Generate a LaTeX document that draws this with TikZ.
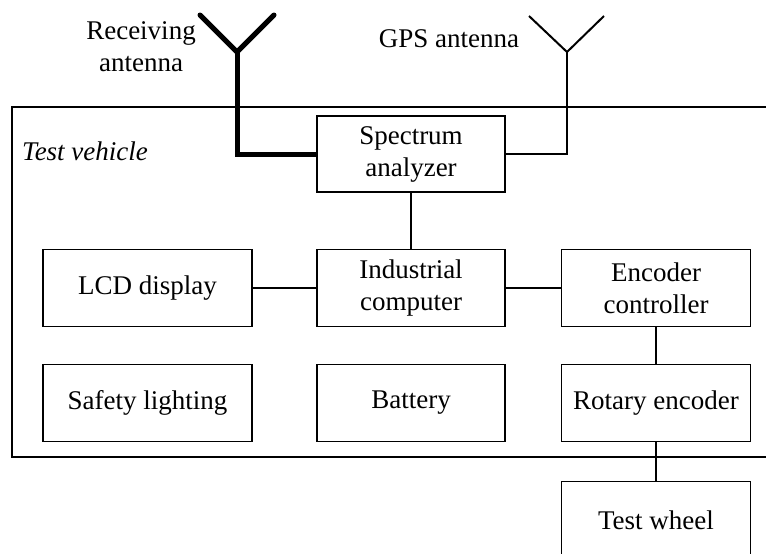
\documentclass[tikz,border=0pt]{standalone}
\usepackage{fontspec}
\setmainfont{Liberation Serif}
\begin{document}
\begin{tikzpicture}[x=1pt,y=-1pt,
  blk/.style={draw,line width=1.8pt,align=center,inner sep=0pt,font=\fontsize{27}{32}\selectfont},
  lbl/.style={align=center,inner sep=0pt,font=\fontsize{27}{32}\selectfont},
  conn/.style={line width=2pt},
  boldline/.style={line width=5pt}]
\clip (0,0) rectangle (766,554);
\fill[white] (0,0) rectangle (766,554);
% outer test vehicle frame (open to the right)
\draw[line width=1.8pt] (780,107) -- (12,107) -- (12,457) -- (780,457);
\node[lbl,anchor=west,font=\fontsize{27}{32}\selectfont\itshape] (tv) at (22,151) {Test vehicle};
% blocks
\node[blk,minimum width=188pt,minimum height=76pt] (sa) at (411,154) {Spectrum\\analyzer};
\node[blk,minimum width=209pt,minimum height=77pt] (lcd) at (147.5,288) {LCD display};
\node[blk,minimum width=188pt,minimum height=77pt] (ic) at (411,288) {Industrial\\computer};
\node[blk,minimum width=189pt,minimum height=77pt] (ec) at (656,288) {Encoder\\controller};
\node[blk,minimum width=209pt,minimum height=77pt] (sl) at (147.5,403) {Safety lighting};
\node[blk,minimum width=188pt,minimum height=77pt] (bat) at (411,403) {Battery};
\node[blk,minimum width=189pt,minimum height=77pt] (re) at (656,403) {Rotary encoder};
\node[blk,minimum width=189pt,minimum height=77pt] (tw) at (656,520) {Test wheel};
% antennas
\coordinate (ra) at (237,52);
\coordinate (ral) at (200,15);
\coordinate (rar) at (274,15);
\coordinate (ga) at (567,52);
\coordinate (gal) at (529,16);
\coordinate (gar) at (604,16);
\draw[boldline,line cap=round] (ral) -- (ra) -- (rar);
\draw[boldline] (ra) |- (sa.west);
\draw[conn] (gal) -- (ga) -- (gar);
\draw[conn] (ga) |- (sa.east);
\node[lbl] (ral2) at (141,47) {Receiving\\antenna};
\node[lbl] (gl) at (449,39) {GPS antenna};
% connectors
\draw[conn] (sa) -- (ic);
\draw[conn] (lcd) -- (ic);
\draw[conn] (ic) -- (ec);
\draw[conn] (ec) -- (re);
\draw[conn] (re) -- (tw);
\end{tikzpicture}
\end{document}
